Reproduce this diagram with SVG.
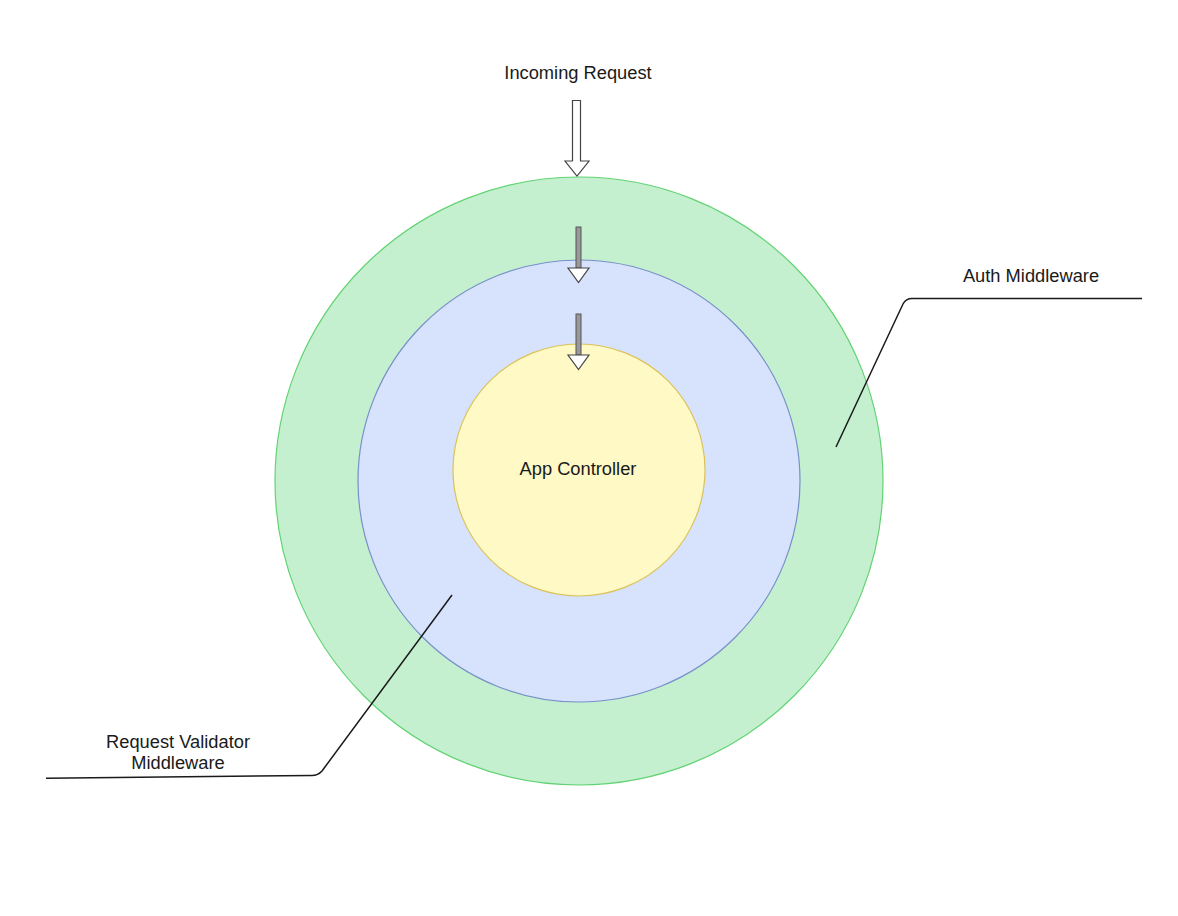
<svg xmlns="http://www.w3.org/2000/svg" width="1178" height="916" viewBox="0 0 1178 916">
<style>
text{font-family:"Liberation Sans",Arial,Helvetica,sans-serif;font-size:18.3px;fill:#1a1a1a;text-anchor:middle}
.ring{stroke-width:1.2}
.callout{fill:none;stroke:#1a1a1a;stroke-width:1.5}
.head{fill:#ffffff;stroke:#444;stroke-width:1.2;stroke-linejoin:miter}
.shaft{fill:#999;stroke:#555;stroke-width:1}
</style>
<rect width="1178" height="916" fill="#ffffff"/>
<g id="auth-middleware">
<circle class="ring" cx="579" cy="481" r="304" fill="#c4f0d0" stroke="#62d373"/>
</g>
<g id="request-validator">
<circle class="ring" cx="579" cy="481" r="221" fill="#d7e2fc" stroke="#7890c8"/>
</g>
<g id="app-controller">
<circle class="ring" cx="579" cy="470" r="126" fill="#fff9c6" stroke="#dcc25a"/>
<text x="578" y="475">App Controller</text>
</g>
<g id="incoming-request">
<text x="578" y="79">Incoming Request</text>
</g>
<g id="auth-label">
<text x="1031" y="282">Auth Middleware</text>
</g>
<g id="validator-label">
<text x="178" y="748">Request Validator</text>
<text x="178" y="769">Middleware</text>
</g>
<g id="connectors">
<path class="head" d="M572.5,100.5 L580.5,100.5 L580.5,161 L589,161 L577,176 L565,161 L572.5,161 Z"/>
<rect class="shaft" x="576" y="227" width="5" height="41"/>
<path class="head" d="M568,268 L589,268 L578.5,282.5 Z"/>
<rect class="shaft" x="576" y="314" width="5" height="41"/>
<path class="head" d="M568,355 L589,355 L578.5,369.5 Z"/>
<path class="callout" d="M836,447 L903,304 Q906,298.5 912,298.5 L1142,298.5"/>
<path class="callout" d="M452,595 L322,771 Q318,775.5 312,775.5 L46,778.3"/>
</g>
</svg>
